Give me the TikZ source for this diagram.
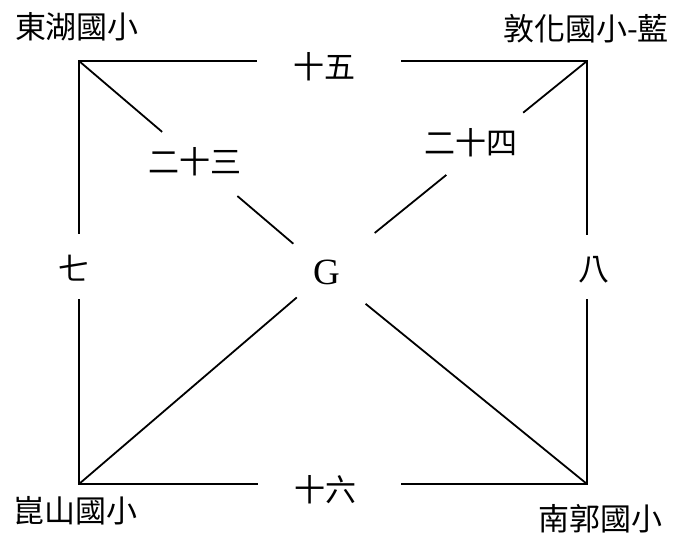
\documentclass[tikz,border=0pt]{standalone}
\usepackage{fontspec}
\setmainfont{Liberation Serif}
\newfontfamily\cjk{Noto Sans CJK TC}
\usetikzlibrary{calc}
\begin{document}
\begin{tikzpicture}[x=1pt,y=-1pt,
  edge/.style={line width=1.8pt, black, line join=miter},
  lbl/.style={inner sep=0pt, font=\cjk\fontsize{31}{31}\selectfont},
  gnode/.style={inner sep=0pt, font=\fontsize{37}{37}\selectfont}]
\useasboundingbox (0,0) rectangle (675,538);
% corners
\coordinate (TL) at (79,61);
\coordinate (TR) at (587,61);
\coordinate (BL) at (79,484);
\coordinate (BR) at (587,484);
\node[gnode] (G) at (326.5,272) {G};
% corner labels
\node[lbl] (dh) at (77,27) {東湖國小};
\node[lbl] (dz) at (586,29) {敦化國小-藍};
\node[lbl] (ks) at (75,511) {崑山國小};
\node[lbl] (ng) at (600,519) {南郭國小};
% edge labels
\node[lbl] (n15) at (324,67) {十五};
\node[lbl] (n16) at (325,490) {十六};
\node[lbl] (n7) at (74,268) {七};
\node[lbl] (n8) at (594,270) {八};
\node[lbl] (n23) at (195,162) {二十三};
\node[lbl] (n24) at (471,143) {二十四};
% square edges with gaps
\draw[edge] ($(TL)!0.350!(TR)$) -- (TL) -- ($(TL)!0.409!(BL)$);
\draw[edge] ($(TL)!0.634!(TR)$) -- (TR) -- ($(TR)!0.411!(BR)$);
\draw[edge] ($(BL)!0.352!(BR)$) -- (BL) -- ($(TL)!0.563!(BL)$);
\draw[edge] ($(BL)!0.634!(BR)$) -- (BR) -- ($(TR)!0.563!(BR)$);
% diagonals
\draw[edge] (TL) -- ($(TL)!0.336!(G)$);
\draw[edge] ($(TL)!0.64!(G)$) -- ($(TL)!0.866!(G)$);
\draw[edge] (TR) -- ($(TR)!0.245!(G)$);
\draw[edge] ($(TR)!0.54!(G)$) -- ($(TR)!0.815!(G)$);
\draw[edge] ($(G)!0.12!(BL)$) -- (BL);
\draw[edge] ($(G)!0.15!(BR)$) -- (BR);
\end{tikzpicture}
\end{document}
